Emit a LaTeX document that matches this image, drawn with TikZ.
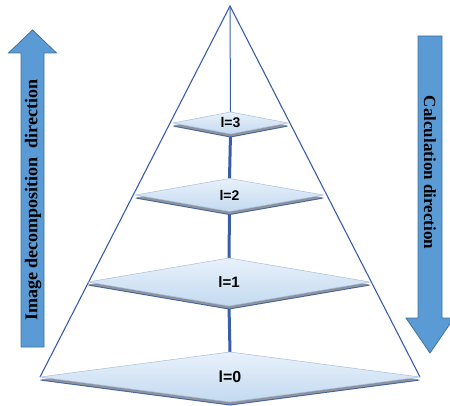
\documentclass[tikz,border=0pt]{standalone}
\usepackage{fontspec}
\setmainfont{Liberation Serif}
\newfontfamily\lvlfont{Liberation Sans}
\usetikzlibrary{shapes.geometric}
\definecolor{linecol}{HTML}{3A5DA8}
\definecolor{arrowfill}{HTML}{5B9BD5}
\definecolor{arrowdraw}{HTML}{41719C}
\definecolor{dtop}{HTML}{E8F1FB}
\definecolor{dbot}{HTML}{C4DAF0}
\definecolor{dedge}{HTML}{A9BED8}
\definecolor{shadowblue}{HTML}{44639F}
\definecolor{shadowgray}{HTML}{8C929E}
\pgfdeclarelayer{bg}
\pgfsetlayers{bg,main}
\tikzset{
  lvl/.style={diamond, inner sep=0pt, outer sep=0pt, aspect=4,
    top color=dtop, bottom color=dbot, draw=dedge, line width=0.5pt,
    preaction={fill=shadowblue, transform canvas={yshift=-3.5pt}},
    preaction={fill=shadowgray, transform canvas={yshift=-2.5pt}},
    font=\lvlfont\bfseries},
  pyr/.style={draw=linecol, line width=1.1pt},
  stem/.style={draw=linecol, line width=3pt},
  bigarrow/.style={fill=arrowfill, draw=arrowdraw, line width=0.8pt},
  arrowtext/.style={text=black, inner sep=0pt}
}
\begin{document}
\begin{tikzpicture}[x=1pt,y=-1pt]
\useasboundingbox (0,0) rectangle (450,406);
% diamonds
\node[lvl, minimum width=115pt, minimum height=22pt, font=\lvlfont\bfseries\fontsize{14}{16}\selectfont] (d3) at (230.5,123) {l=3};
\node[lvl, minimum width=188pt, minimum height=33pt, font=\lvlfont\bfseries\fontsize{14}{16}\selectfont] (d2) at (229.5,195) {l=2};
\node[lvl, minimum width=282pt, minimum height=48pt, font=\lvlfont\bfseries\fontsize{15}{17}\selectfont] (d1) at (229,282) {l=1};
\node[lvl, minimum width=380pt, minimum height=50pt, font=\lvlfont\bfseries\fontsize{16}{18}\selectfont] (d0) at (230,377) {l=0};
\coordinate (apex) at (230,6);
\begin{pgfonlayer}{bg}
\draw[pyr] (d0.west) -- (apex) -- (d0.east);
\draw[draw=linecol, line width=1pt] (apex) -- (d3.north);
\draw[stem] (d3.south) -- (d2.north);
\draw[stem] (d2.south) -- (d1.north);
\draw[stem] (d1.south) -- (d0.north);
\end{pgfonlayer}
% left arrow
\draw[bigarrow] (21,347) -- (21,53) -- (8.5,53) -- (32.5,30) -- (56.5,53) -- (44,53) -- (44,347) -- cycle;
\node[arrowtext, rotate=90, font=\bfseries\fontsize{18}{20}\selectfont] (lefttext) at (33,200) {Image decomposition\ \ direction};
% right arrow
\draw[bigarrow] (418,36) -- (442,36) -- (442,318) -- (454,318) -- (430,353) -- (406,318) -- (418,318) -- cycle;
\node[arrowtext, rotate=-90, font=\bfseries\fontsize{17}{19}\selectfont] (righttext) at (430,172.5) {Calculation direction};
\end{tikzpicture}
\end{document}
